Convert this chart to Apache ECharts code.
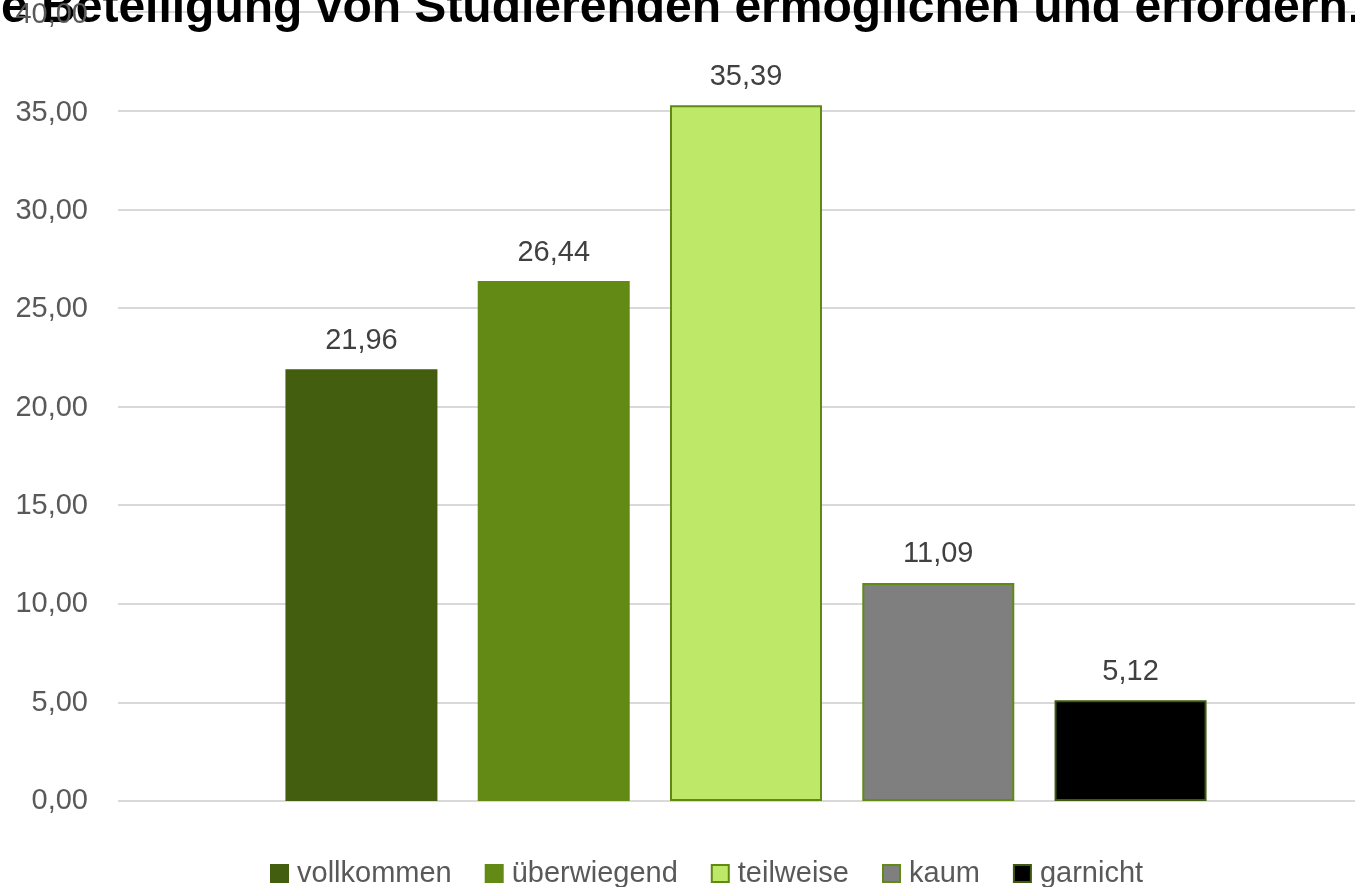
<!DOCTYPE html>
<html>
<head>
<meta charset="utf-8">
<script src="https://cdn.jsdelivr.net/npm/echarts@6/dist/echarts.min.js"></script>
<style>
  html, body { margin: 0; padding: 0; background: #fff; }
  #main { width: 1355px; height: 887px; }
</style>
</head>
<body>
<div id="main"></div>
<script>
// Antwortkategorien und Anteile (%)
var categories = ["vollkommen", "überwiegend", "teilweise", "kaum", "garnicht"];
var values = [21.96, 26.44, 35.39, 11.09, 5.12];
var fills = ["#425E0E", "#628A14", "#BDE868", "#7F7F7F", "#000000"];
var borders = ["#425E0E", "#628A14", "#5F8A14", "#5F8A14", "#3F5A0E"];
var titleText = "e Beteiligung von Studierenden ermöglichen und erfordern.";

var font = "'Liberation Sans Narrow', 'Arial Narrow', 'Liberation Sans', sans-serif";

function fmt(v) {
  return v.toFixed(2).replace(".", ",");
}

var myChart = echarts.init(document.getElementById("main"));

var series = categories.map(function (name, i) {
  return {
    name: name,
    type: "bar",
    xAxisIndex: 1,
    yAxisIndex: 1,
    barWidth: 152,
    barGap: "26.5%",
    data: [values[i]],
    itemStyle: { color: fills[i], borderColor: borders[i], borderWidth: 2 },
    label: {
      show: true,
      position: "top",
      distance: 14,
      color: "#404040",
      fontSize: 29,
      fontFamily: font,
      formatter: function (p) { return fmt(p.value); }
    }
  };
});

var hiddenX = {
  type: "category",
  data: [""],
  axisLine: { show: false },
  axisTick: { show: false },
  axisLabel: { show: false }
};

var option = {
  animation: false,
  title: {
    text: titleText,
    left: -4,
    top: -20,
    z: 0,
    textStyle: { color: "#000", fontSize: 48, fontWeight: "bold", fontFamily: font }
  },
  legend: {
    bottom: -6,
    left: 265,
    itemWidth: 17,
    itemHeight: 17,
    itemGap: 33,
    icon: "rect",
    textStyle: { color: "#595959", fontSize: 29, fontFamily: font, padding: [0, 0, 0, 4] },
    data: categories
  },
  grid: [
    { left: 118, right: 0, top: 12, bottom: 86 },
    { left: 137, right: 0, top: 12, bottom: 86 }
  ],
  xAxis: [
    Object.assign({ gridIndex: 0 }, hiddenX),
    Object.assign({ gridIndex: 1 }, hiddenX)
  ],
  yAxis: [
    {
      // Gitterlinien
      gridIndex: 0,
      type: "value",
      min: 0,
      max: 40,
      interval: 5,
      axisLine: { show: false },
      axisTick: { show: false },
      axisLabel: { show: false },
      splitLine: { lineStyle: { color: "#D9D9D9", width: 2 } }
    },
    {
      // Beschriftung, über dem Titel
      gridIndex: 1,
      type: "value",
      min: 0,
      max: 40,
      interval: 5,
      z: 10,
      axisLine: { show: false },
      axisTick: { show: false },
      axisLabel: {
        margin: 49,
        color: "#595959",
        fontSize: 29,
        fontFamily: font,
        formatter: function (v) { return fmt(v); }
      },
      splitLine: { show: false }
    }
  ],
  series: series
};

myChart.setOption(option);
</script>
</body>
</html>
